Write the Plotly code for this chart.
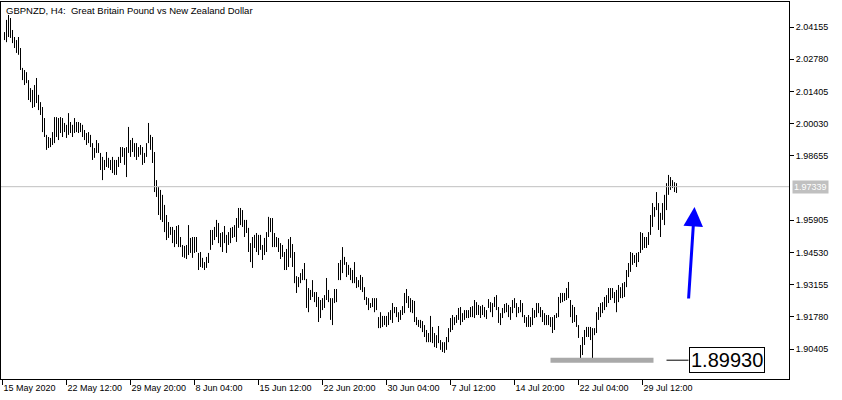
import plotly.graph_objects as go

# ---------------- data ----------------
symbol_title = "GBPNZD, H4:\u00a0 Great Britain Pound vs New Zealand Dollar"

highs = [
    2.0394, 2.0446, 2.0467, 2.0454, 2.0403, 2.0373, 2.0360, 2.0373, 2.0326, 2.0241,
    2.0232, 2.0223, 2.0189, 2.0155, 2.0147, 2.0168, 2.0198, 2.0126, 2.0095, 2.0074,
    2.0027, 1.9955, 1.9946, 1.9942, 1.9967, 2.0031, 2.0031, 2.0027, 2.0031, 2.0027,
    2.0006, 1.9998, 2.0048, 2.0010, 1.9998, 2.0027, 2.0010, 2.0010, 2.0006, 1.9998,
    1.9976, 1.9963, 1.9967, 1.9955, 1.9920, 1.9899, 1.9933, 1.9920, 1.9878, 1.9861,
    1.9848, 1.9882, 1.9857, 1.9848, 1.9861, 1.9848, 1.9848, 1.9861, 1.9903, 1.9903,
    1.9899, 1.9903, 1.9989, 1.9933, 1.9942, 1.9920, 1.9920, 1.9903, 1.9912, 1.9903,
    1.9878, 1.9920, 2.0006, 1.9955, 1.9946, 1.9882, 1.9762, 1.9732, 1.9720, 1.9699,
    1.9656, 1.9613, 1.9583, 1.9562, 1.9562, 1.9549, 1.9566, 1.9570, 1.9519, 1.9485,
    1.9481, 1.9485, 1.9570, 1.9515, 1.9519, 1.9519, 1.9519, 1.9451, 1.9455, 1.9430,
    1.9412, 1.9434, 1.9451, 1.9549, 1.9549, 1.9562, 1.9592, 1.9579, 1.9536, 1.9540,
    1.9566, 1.9528, 1.9540, 1.9558, 1.9562, 1.9570, 1.9600, 1.9643, 1.9643, 1.9634,
    1.9592, 1.9592, 1.9558, 1.9493, 1.9519, 1.9528, 1.9536, 1.9528, 1.9528, 1.9485,
    1.9515, 1.9540, 1.9605, 1.9600, 1.9600, 1.9536, 1.9519, 1.9515, 1.9493, 1.9485,
    1.9455, 1.9468, 1.9510, 1.9519, 1.9489, 1.9455, 1.9352, 1.9348, 1.9365, 1.9382,
    1.9408, 1.9340, 1.9301, 1.9293, 1.9335, 1.9284, 1.9284, 1.9263, 1.9250, 1.9258,
    1.9271, 1.9344, 1.9293, 1.9258, 1.9258, 1.9297, 1.9297, 1.9408, 1.9421, 1.9476,
    1.9434, 1.9412, 1.9400, 1.9387, 1.9378, 1.9412, 1.9348, 1.9335, 1.9357, 1.9348,
    1.9305, 1.9263, 1.9258, 1.9237, 1.9258, 1.9258, 1.9258, 1.9177, 1.9198, 1.9182,
    1.9182, 1.9182, 1.9198, 1.9207, 1.9237, 1.9220, 1.9220, 1.9198, 1.9207, 1.9224,
    1.9280, 1.9297, 1.9267, 1.9258, 1.9250, 1.9246, 1.9177, 1.9165, 1.9165, 1.9160,
    1.9143, 1.9122, 1.9109, 1.9182, 1.9135, 1.9109, 1.9100, 1.9139, 1.9079, 1.9070,
    1.9070, 1.9092, 1.9130, 1.9173, 1.9186, 1.9177, 1.9186, 1.9216, 1.9220, 1.9194,
    1.9207, 1.9207, 1.9207, 1.9220, 1.9224, 1.9250, 1.9241, 1.9229, 1.9224, 1.9229,
    1.9220, 1.9207, 1.9254, 1.9241, 1.9237, 1.9263, 1.9271, 1.9220, 1.9194, 1.9216,
    1.9233, 1.9237, 1.9229, 1.9220, 1.9250, 1.9258, 1.9237, 1.9220, 1.9250, 1.9237,
    1.9186, 1.9177, 1.9186, 1.9177, 1.9216, 1.9207, 1.9237, 1.9237, 1.9220, 1.9207,
    1.9194, 1.9186, 1.9186, 1.9177, 1.9177, 1.9186, 1.9194, 1.9263, 1.9280, 1.9280,
    1.9280, 1.9301, 1.9327, 1.9250, 1.9229, 1.9220, 1.9186, 1.9143, 1.9058, 1.9092,
    1.9122, 1.9135, 1.9135, 1.9135, 1.9130, 1.9130, 1.9198, 1.9220, 1.9237, 1.9241,
    1.9263, 1.9271, 1.9301, 1.9301, 1.9301, 1.9284, 1.9293, 1.9314, 1.9305, 1.9322,
    1.9327, 1.9378, 1.9408, 1.9455, 1.9451, 1.9442, 1.9451, 1.9455, 1.9540, 1.9536,
    1.9519, 1.9519, 1.9540, 1.9613, 1.9664, 1.9647, 1.9711, 1.9664, 1.9622, 1.9664,
    1.9699, 1.9749, 1.9784, 1.9775, 1.9762, 1.9753, 1.9749,
]

lows = [
    2.0360, 2.0351, 2.0373, 2.0369, 2.0347, 2.0326, 2.0305, 2.0297, 2.0232, 2.0189,
    2.0168, 2.0176, 2.0104, 2.0095, 2.0070, 2.0074, 2.0091, 2.0061, 2.0040, 1.9967,
    1.9946, 1.9891, 1.9899, 1.9903, 1.9912, 1.9920, 1.9946, 1.9933, 1.9963, 1.9946,
    1.9967, 1.9942, 1.9955, 1.9963, 1.9946, 1.9963, 1.9967, 1.9963, 1.9967, 1.9946,
    1.9933, 1.9912, 1.9920, 1.9903, 1.9848, 1.9857, 1.9878, 1.9878, 1.9805, 1.9762,
    1.9805, 1.9818, 1.9814, 1.9805, 1.9792, 1.9784, 1.9784, 1.9818, 1.9835, 1.9861,
    1.9827, 1.9775, 1.9878, 1.9861, 1.9882, 1.9861, 1.9848, 1.9861, 1.9870, 1.9827,
    1.9835, 1.9861, 1.9920, 1.9891, 1.9835, 1.9711, 1.9690, 1.9613, 1.9592, 1.9583,
    1.9540, 1.9506, 1.9515, 1.9528, 1.9493, 1.9476, 1.9489, 1.9476, 1.9476, 1.9434,
    1.9430, 1.9425, 1.9442, 1.9451, 1.9430, 1.9451, 1.9455, 1.9378, 1.9391, 1.9387,
    1.9378, 1.9387, 1.9408, 1.9464, 1.9485, 1.9506, 1.9519, 1.9493, 1.9476, 1.9455,
    1.9493, 1.9451, 1.9485, 1.9493, 1.9515, 1.9519, 1.9498, 1.9558, 1.9570, 1.9562,
    1.9519, 1.9536, 1.9455, 1.9412, 1.9387, 1.9472, 1.9455, 1.9442, 1.9464, 1.9421,
    1.9442, 1.9455, 1.9519, 1.9540, 1.9476, 1.9476, 1.9476, 1.9455, 1.9425, 1.9434,
    1.9378, 1.9378, 1.9391, 1.9430, 1.9391, 1.9322, 1.9280, 1.9305, 1.9322, 1.9335,
    1.9335, 1.9216, 1.9198, 1.9250, 1.9263, 1.9241, 1.9220, 1.9156, 1.9173, 1.9207,
    1.9216, 1.9250, 1.9241, 1.9165, 1.9143, 1.9237, 1.9241, 1.9335, 1.9335, 1.9365,
    1.9400, 1.9348, 1.9357, 1.9335, 1.9322, 1.9322, 1.9301, 1.9305, 1.9293, 1.9284,
    1.9250, 1.9229, 1.9207, 1.9216, 1.9220, 1.9198, 1.9207, 1.9130, 1.9130, 1.9135,
    1.9143, 1.9135, 1.9143, 1.9165, 1.9152, 1.9194, 1.9177, 1.9156, 1.9165, 1.9186,
    1.9194, 1.9237, 1.9216, 1.9198, 1.9194, 1.9156, 1.9143, 1.9135, 1.9130, 1.9113,
    1.9092, 1.9070, 1.9070, 1.9070, 1.9066, 1.9049, 1.9045, 1.9066, 1.9037, 1.9028,
    1.9024, 1.9037, 1.9070, 1.9113, 1.9122, 1.9143, 1.9152, 1.9165, 1.9143, 1.9156,
    1.9165, 1.9173, 1.9173, 1.9177, 1.9177, 1.9173, 1.9186, 1.9186, 1.9173, 1.9186,
    1.9177, 1.9169, 1.9216, 1.9198, 1.9177, 1.9220, 1.9207, 1.9152, 1.9143, 1.9173,
    1.9194, 1.9198, 1.9177, 1.9165, 1.9194, 1.9216, 1.9177, 1.9194, 1.9198, 1.9177,
    1.9152, 1.9135, 1.9135, 1.9135, 1.9143, 1.9173, 1.9177, 1.9194, 1.9177, 1.9156,
    1.9143, 1.9143, 1.9143, 1.9135, 1.9109, 1.9122, 1.9173, 1.9177, 1.9237, 1.9241,
    1.9246, 1.9250, 1.9258, 1.9177, 1.9152, 1.9156, 1.9135, 1.9088, 1.8993, 1.9015,
    1.9058, 1.9092, 1.9092, 1.9079, 1.8996, 1.9100, 1.9109, 1.9165, 1.9177, 1.9194,
    1.9207, 1.9220, 1.9237, 1.9250, 1.9258, 1.9237, 1.9198, 1.9241, 1.9258, 1.9258,
    1.9263, 1.9305, 1.9348, 1.9370, 1.9400, 1.9408, 1.9391, 1.9412, 1.9451, 1.9464,
    1.9472, 1.9472, 1.9485, 1.9528, 1.9562, 1.9605, 1.9634, 1.9549, 1.9519, 1.9592,
    1.9570, 1.9634, 1.9699, 1.9720, 1.9728, 1.9711, 1.9707,
]

# x-axis time labels and the bar index they sit on
x_tick_labels = ["15 May 2020", "22 May 12:00", "29 May 20:00", "8 Jun 04:00",
                 "15 Jun 12:00", "22 Jun 20:00", "30 Jun 04:00", "7 Jul 12:00",
                 "14 Jul 20:00", "22 Jul 04:00", "29 Jul 12:00"]
x_tick_bars = [-1, 31, 63, 95, 127, 159, 191, 223, 255, 287, 319]

# price scale labels
y_tick_vals = [1.90405, 1.91780, 1.93155, 1.94530, 1.95905,
               1.98655, 2.00030, 2.01405, 2.02780, 2.04155]

current_price = 1.97339
support_level = 1.89930
support_from_bar, support_to_bar = 273, 324.5
label_connector_from_bar, label_bar = 331, 342
arrow_tail_bar, arrow_tail_price = 342, 1.9250
arrow_tip_bar, arrow_tip_price = 345, 1.9647

if len(highs) != len(lows):
    raise SystemExit("length mismatch %d %d" % (len(highs), len(lows)))

# ---------------- figure ----------------
FONT = "Liberation Sans, Arial, sans-serif"

xs, ys = [], []
for i, (h, l) in enumerate(zip(highs, lows)):
    xs += [i, i, None]
    ys += [l, h, None]

fig = go.Figure()
fig.add_trace(go.Scatter(x=xs, y=ys, mode="lines",
                         line=dict(color="black", width=1),
                         hoverinfo="skip", showlegend=False))

fig.update_layout(
    width=842, height=400,
    margin=dict(l=1, r=53, t=2, b=21, pad=0),
    paper_bgcolor="white", plot_bgcolor="white",
    font=dict(family=FONT, size=9, color="black"),
    showlegend=False,
    xaxis=dict(range=[-1.75, 392.25], showgrid=False, zeroline=False,
               showline=True, mirror=True, linecolor="black", linewidth=1,
               ticks="outside", ticklen=5, tickcolor="black", tickwidth=1,
               tickvals=x_tick_bars, ticktext=x_tick_labels,
               ticklabelposition="outside right",
               tickfont=dict(family=FONT, size=9, color="black")),
    yaxis=dict(range=[1.89127, 2.05225], side="right", showgrid=False,
               zeroline=False, showline=True, mirror=True,
               linecolor="black", linewidth=1,
               ticks="outside", ticklen=4, tickcolor="black", tickwidth=1,
               tickvals=y_tick_vals, tickformat=".5f",
               tickfont=dict(family=FONT, size=9, color="black")),
)

# current price line
fig.add_shape(type="line", xref="paper", x0=0, x1=1, yref="y",
              y0=current_price, y1=current_price,
              line=dict(color="#c0c0c0", width=1))
# support marker
fig.add_shape(type="line", xref="x", x0=support_from_bar, x1=support_to_bar,
              yref="y", y0=support_level, y1=support_level,
              line=dict(color="#a9a9a9", width=5))
fig.add_shape(type="line", xref="x", x0=label_connector_from_bar, x1=label_bar,
              yref="y", y0=support_level, y1=support_level,
              line=dict(color="black", width=1))

fig.add_annotation(xref="paper", yref="paper", x=0, y=1, xanchor="left",
                   yanchor="top", xshift=3, yshift=-1, showarrow=False,
                   text=symbol_title, font=dict(family=FONT, size=9.5, color="black"))

fig.add_annotation(xref="paper", yref="y", x=1, y=current_price,
                   xanchor="left", yanchor="middle", xshift=3, showarrow=False,
                   text="%.5f" % current_price, bgcolor="#c0c0c0", borderpad=1,
                   font=dict(family=FONT, size=9, color="white"))

fig.add_annotation(xref="x", yref="y", x=label_bar, y=support_level,
                   xanchor="left", yanchor="middle", showarrow=False,
                   text="%.5f" % support_level, bgcolor="white",
                   bordercolor="black", borderwidth=1, borderpad=1,
                   font=dict(family=FONT, size=20, color="black"))

fig.add_annotation(xref="x", yref="y", x=arrow_tip_bar, y=arrow_tip_price,
                   axref="x", ayref="y", ax=arrow_tail_bar, ay=arrow_tail_price,
                   text="", showarrow=True, arrowhead=2, arrowsize=1.3,
                   arrowwidth=3, arrowcolor="#0000ff", standoff=0)

fig.write_html("out.html",
               config={"displayModeBar": False},
               post_script="document.body.style.margin='0';"
                           "document.body.style.overflow='hidden';")
